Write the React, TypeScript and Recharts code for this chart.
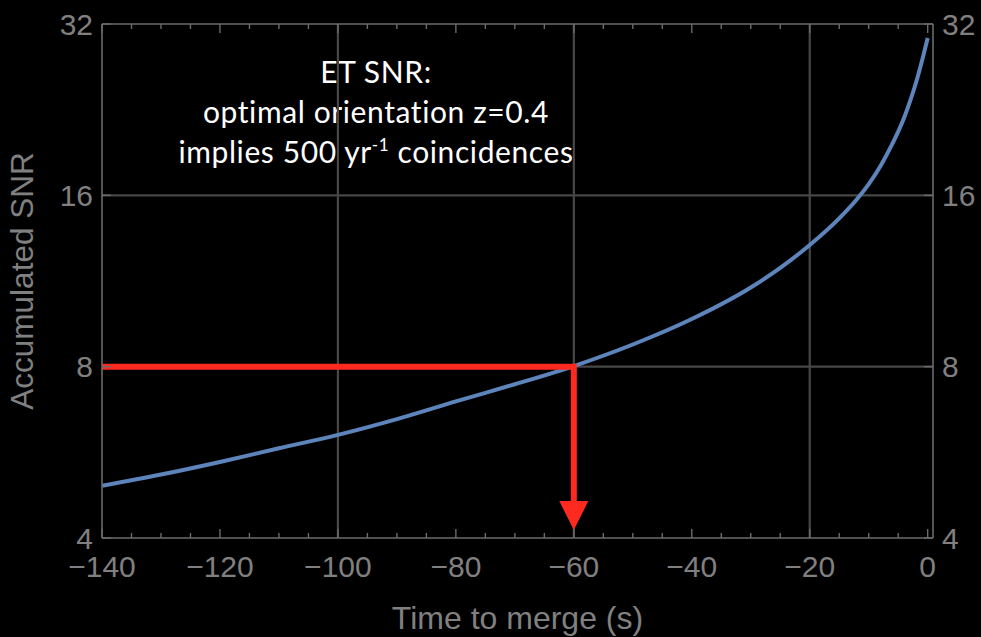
import React from 'react';
import {
  LineChart,
  Line,
  XAxis,
  YAxis,
  ReferenceLine,
  ReferenceDot,
  Label,
  Customized,
} from 'recharts';

// Accumulated SNR versus time to merger (log2 vertical scale)
const timeToMerge = [-140, -130, -120, -110, -100, -90, -80, -70, -60, -50, -40, -30, -25, -20, -15, -12, -10, -8, -6, -5, -4, -3, -2, -1, 0];
const accumulatedSnr = [4.94, 5.17, 5.44, 5.75, 6.07, 6.47, 6.95, 7.45, 8.02, 8.75, 9.7, 11.02, 11.93, 13.09, 14.58, 15.75, 16.74, 18.02, 19.7, 20.7, 21.9, 23.4, 25.2, 27.5, 30.25];

const majorTimeTicks = [-140, -120, -100, -80, -60, -40, -20, 0];
const minorTimeTicks = [
  -140, -135, -130, -125, -120, -115, -110, -105, -100, -95, -90, -85, -80, -75, -70,
  -65, -60, -55, -50, -45, -40, -35, -30, -25, -20, -15, -10, -5, 0,
];
const snrTicks = [4, 8, 16, 32];
const gridTimes = [-100, -60, -20];
const gridSnr = [8, 16];

// Detection threshold marker: SNR 8 reached 60 s before merger
const thresholdSnr = 8;
const thresholdTime = -60;
const arrowShaftEnd = 4.5;
const arrowTip = 4.13;

const TIME_MIN = -140;
const TIME_MAX = 0.9;
const SNR_MIN = 4;
const SNR_MAX = 32;

const curveData = timeToMerge.map((t, i) => ({ t, snr: accumulatedSnr[i] }));
const thresholdPath = [
  { t: TIME_MIN, v: thresholdSnr },
  { t: thresholdTime, v: thresholdSnr },
  { t: thresholdTime, v: arrowShaftEnd },
];

const FRAME = '#6b6b6b';
const GRID = '#474747';
const TEXT = '#808080';
const RED = '#ff2a1f';
const BLUE = '#5e84bc';
const AXIS_FONT = '"Liberation Sans", Arial, sans-serif';
const TICK_FONT_SIZE = 30;
const MAJOR_LEN = 9;
const MINOR_LEN = 5;

const formatTime = (v: number) => (v < 0 ? `\u2212${Math.abs(v)}` : `${v}`);
const isMajorTime = (v: number) => majorTimeTicks.includes(v);

// Inward-pointing tick marks; labels only on the major time ticks
const BottomTick = (props: any) => {
  const { x, y, payload } = props;
  const major = isMajorTime(payload.value);
  return (
    <g>
      <line x1={x} x2={x} y1={y} y2={y - (major ? MAJOR_LEN : MINOR_LEN)} stroke={FRAME} strokeWidth={1.4} />
      {major && (
        <text x={x} y={y + 39} textAnchor="middle" fill={TEXT} fontSize={TICK_FONT_SIZE} fontFamily={AXIS_FONT}>
          {formatTime(payload.value)}
        </text>
      )}
    </g>
  );
};

const TopTick = (props: any) => {
  const { x, y, payload } = props;
  const major = isMajorTime(payload.value);
  return (
    <line x1={x} x2={x} y1={y} y2={y + (major ? MAJOR_LEN : MINOR_LEN)} stroke={FRAME} strokeWidth={1.4} />
  );
};

const LeftTick = (props: any) => {
  const { x, y, payload } = props;
  return (
    <g>
      <line x1={x} x2={x + MAJOR_LEN} y1={y} y2={y} stroke={FRAME} strokeWidth={1.4} />
      <text x={x - 9} y={y} dy="0.36em" textAnchor="end" fill={TEXT} fontSize={TICK_FONT_SIZE} fontFamily={AXIS_FONT}>
        {payload.value}
      </text>
    </g>
  );
};

const RightTick = (props: any) => {
  const { x, y, payload } = props;
  return (
    <g>
      <line x1={x} x2={x - MAJOR_LEN} y1={y} y2={y} stroke={FRAME} strokeWidth={1.4} />
      <text x={x + 9} y={y} dy="0.36em" textAnchor="start" fill={TEXT} fontSize={TICK_FONT_SIZE} fontFamily={AXIS_FONT}>
        {payload.value}
      </text>
    </g>
  );
};

const ArrowHead = (props: any) => {
  const { cx, cy } = props;
  if (cx == null || cy == null) return null;
  const half = 14.5;
  const h = 29;
  return (
    <polygon
      points={`${cx - half},${cy - h} ${cx + half},${cy - h} ${cx},${cy}`}
      fill={RED}
    />
  );
};

const Annotation = () => (
  <g fontFamily="Lato, 'Open Sans', sans-serif" fontSize={30} letterSpacing={0.6} fill="#ffffff" textAnchor="middle">
    <text x={376} y={83}>ET SNR:</text>
    <text x={376} y={123}>optimal orientation z=0.4</text>
    <text x={376} y={163}>
      implies 500 yr
      <tspan dy={-12} fontSize={17}>-1</tspan>
      <tspan dy={12}> coincidences</tspan>
    </text>
  </g>
);

export default function App() {
  return (
    <div style={{ position: 'absolute', left: 0, top: 0, width: 981, height: 637, background: '#000' }}>
      <LineChart
        width={981}
        height={637}
        data={curveData}
        margin={{ top: 0, right: 0, bottom: 0, left: 0 }}
      >
        <XAxis
          xAxisId="top"
          dataKey="t"
          type="number"
          domain={[TIME_MIN, TIME_MAX]}
          allowDataOverflow
          ticks={minorTimeTicks}
          interval={0}
          orientation="top"
          height={24}
          tick={<TopTick />}
          tickLine={false}
          tickSize={0}
          tickMargin={0}
          axisLine={{ stroke: FRAME, strokeWidth: 1.6 }}
        />
        <XAxis
          xAxisId="main"
          dataKey="t"
          type="number"
          domain={[TIME_MIN, TIME_MAX]}
          allowDataOverflow
          ticks={minorTimeTicks}
          interval={0}
          orientation="bottom"
          height={99}
          tick={<BottomTick />}
          tickLine={false}
          tickSize={0}
          tickMargin={0}
          axisLine={{ stroke: FRAME, strokeWidth: 1.6 }}
        >
          <Label
            value="Time to merge (s)"
            position="insideBottom"
            offset={8}
            fill={TEXT}
            fontSize={32}
            fontFamily={AXIS_FONT}
          />
        </XAxis>
        <YAxis
          yAxisId="left"
          type="number"
          scale="log"
          domain={[SNR_MIN, SNR_MAX]}
          allowDataOverflow
          ticks={snrTicks}
          interval={0}
          width={102}
          tick={<LeftTick />}
          tickLine={false}
          tickSize={0}
          tickMargin={0}
          axisLine={{ stroke: FRAME, strokeWidth: 1.6 }}
        >
          <Label
            value="Accumulated SNR"
            angle={-90}
            position="insideLeft"
            offset={22}
            fill={TEXT}
            fontSize={31.5}
            fontFamily={AXIS_FONT}
            style={{ textAnchor: 'middle' }}
          />
        </YAxis>
        <YAxis
          yAxisId="right"
          orientation="right"
          type="number"
          scale="log"
          domain={[SNR_MIN, SNR_MAX]}
          allowDataOverflow
          ticks={snrTicks}
          interval={0}
          width={48}
          tick={<RightTick />}
          tickLine={false}
          tickSize={0}
          tickMargin={0}
          axisLine={{ stroke: FRAME, strokeWidth: 1.6 }}
        />

        {gridTimes.map((t) => (
          <ReferenceLine key={`gx${t}`} x={t} xAxisId="main" yAxisId="left" stroke={GRID} strokeWidth={2.2} />
        ))}
        {gridSnr.map((s) => (
          <ReferenceLine key={`gy${s}`} y={s} xAxisId="main" yAxisId="left" stroke={GRID} strokeWidth={2.2} />
        ))}

        <Line
          xAxisId="main"
          yAxisId="left"
          dataKey="snr"
          type="monotone"
          stroke={BLUE}
          strokeWidth={4}
          dot={false}
          activeDot={false}
          isAnimationActive={false}
        />
        <Line
          xAxisId="main"
          yAxisId="left"
          data={thresholdPath}
          dataKey="v"
          type="linear"
          stroke={RED}
          strokeWidth={6}
          strokeLinejoin="miter"
          dot={false}
          activeDot={false}
          isAnimationActive={false}
        />
        <ReferenceDot
          xAxisId="main"
          yAxisId="left"
          x={thresholdTime}
          y={arrowTip}
          shape={ArrowHead}
        />
        <Customized component={<Annotation />} />
      </LineChart>
    </div>
  );
}
